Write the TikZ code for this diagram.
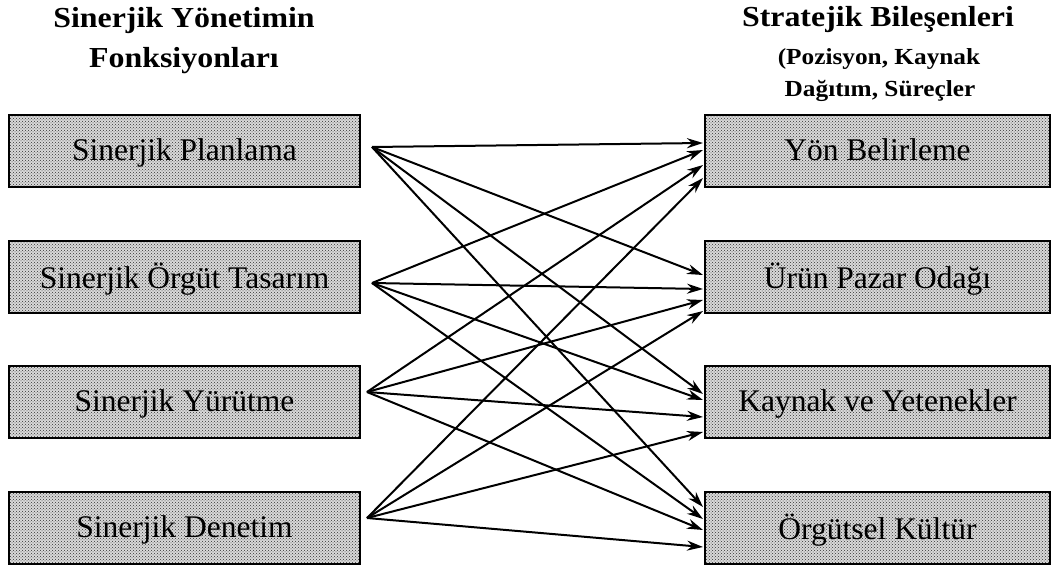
\documentclass[tikz,border=0pt]{standalone}
\usepackage{fontspec}
\setmainfont{Liberation Serif}
\newfontfamily\ttlfont[FakeStretch=1.1]{Liberation Serif}
\usetikzlibrary{arrows.meta,patterns,calc}
\begin{document}
\begin{tikzpicture}[x=1pt,y=-1pt,
  box/.style={draw=black,line width=1.8pt,inner sep=0pt,
    preaction={fill=gray!30},pattern=crosshatch dots,pattern color=black!80,
    minimum height=72pt,text depth=2pt,font=\fontsize{31.5}{36}\selectfont},
  lbox/.style={box,minimum width=351pt},
  rbox/.style={box,minimum width=345pt},
  ttl/.style={font=\ttlfont\bfseries\fontsize{29}{34}\selectfont,inner sep=0pt,anchor=base},
  sub/.style={font=\ttlfont\bfseries\fontsize{23}{27}\selectfont,inner sep=0pt,anchor=base},
  link/.style={line width=2pt,-{Stealth[length=16pt,width=10pt]}}]
\useasboundingbox (0,0) rectangle (1053,567);
% titles
\node[ttl] (lt1) at (184,28) {Sinerjik Yönetimin};
\node[ttl] (lt2) at (184,68) {Fonksiyonları};
\node[ttl] (rt1) at (878,27) {Stratejik Bileşenleri};
\node[sub] (rt2) at (879,65) {(Pozisyon, Kaynak};
\node[sub] (rt3) at (880,97) {Dağıtım, Süreçler};
% left boxes
\node[lbox] (l1) at (184.5,151) {Sinerjik Planlama};
\node[lbox] (l2) at (184.5,277) {Sinerjik Örgüt Tasarım};
\node[lbox] (l3) at (184.5,402) {Sinerjik Yürütme};
\node[lbox] (l4) at (184.5,528) {Sinerjik Denetim};
% right boxes
\node[rbox] (r1) at (877.5,151) {Yön Belirleme};
\node[rbox] (r2) at (877.5,277) {Ürün Pazar Odağı};
\node[rbox] (r3) at (877.5,402) {Kaynak ve Yetenekler};
\node[rbox] (r4) at (877.5,528) {Örgütsel Kültür};
% source points
\coordinate (s1) at (372,147);
\coordinate (s2) at (372,283);
\coordinate (s3) at (367,392);
\coordinate (s4) at (367,518);
% target points
\coordinate (t11) at (703,143);
\coordinate (t12) at (703,150);
\coordinate (t13) at (703,165);
\coordinate (t14) at (703,178);
\coordinate (t21) at (703,275);
\coordinate (t22) at (703,289);
\coordinate (t23) at (703,300);
\coordinate (t24) at (703,311);
\coordinate (t31) at (703,394);
\coordinate (t32) at (703,400);
\coordinate (t33) at (703,417);
\coordinate (t34) at (703,432);
\coordinate (t41) at (703,507);
\coordinate (t42) at (703,519);
\coordinate (t43) at (703,530);
\coordinate (t44) at (703,547);
\foreach \s in {1,2,3,4}{
  \foreach \t in {1,2,3,4}{
    \draw[link] (s\s) -- (t\t\s);
  }
}
\end{tikzpicture}
\end{document}
